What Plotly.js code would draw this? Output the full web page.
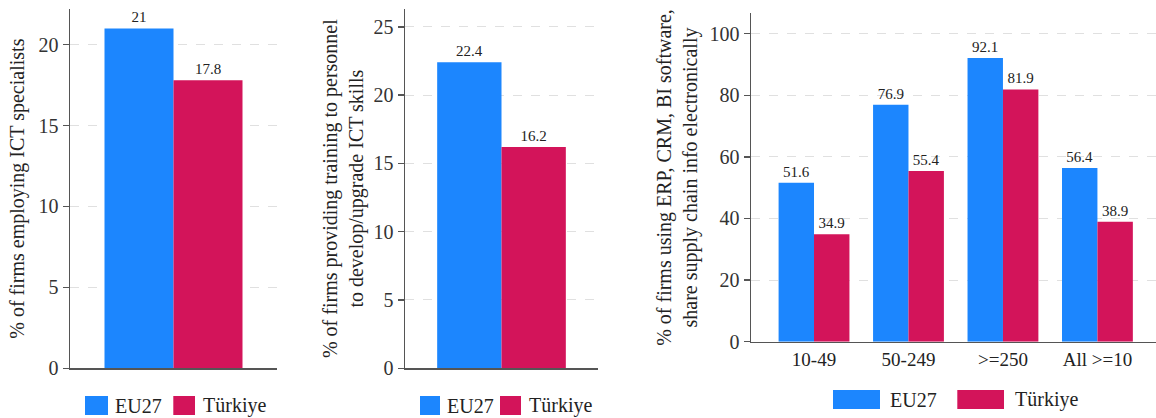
<!DOCTYPE html>
<html><head><meta charset="utf-8">
<script src="https://cdn.plot.ly/plotly-3.0.1.min.js"></script>
<style>html,body{margin:0;padding:0;background:#fff}#chart{width:1156px;height:418px}</style>
</head><body><div id="chart"></div>
<script>
// ---- data ----
const seriesNames = ['EU27', 'Türkiye'];
const panel1Cat = ['ICT specialists'];
const panel1EU = [21];
const panel1TR = [17.8];
const panel2Cat = ['ICT training'];
const panel2EU = [22.4];
const panel2TR = [16.2];
const sizeCats = ['10-49', '50-249', '>=250', 'All >=10'];
const panel3EU = [51.6, 76.9, 92.1, 56.4];
const panel3TR = [34.9, 55.4, 81.9, 38.9];
const yTitle1 = '% of firms employing ICT specialists';
const yTitle2 = '% of firms providing training to personnel<br>to develop/upgrade ICT skills';
const yTitle3 = '% of firms using ERP, CRM, BI software,<br>share supply chain info electronically';
const yTicks1 = [0, 5, 10, 15, 20];
const yTicks2 = [0, 5, 10, 15, 20, 25];
const yTicks3 = [0, 20, 40, 60, 80, 100];

// ---- style ----
const COLORS = ['#1c86fe', '#d3145a'];
const FONT = 'Liberation Serif, Times New Roman, serif';
const W = 1156, H = 418;
const px = v => v / W, py = v => (H - v) / H;

function barTrace(cats, vals, i, ax) {
  return {
    type: 'bar', x: cats, y: vals, name: seriesNames[i],
    marker: {color: COLORS[i], line: {width: 0}},
    text: vals.map(v => String(v)), textposition: 'outside',
    textfont: {family: FONT, size: 15, color: '#222'},
    constraintext: 'none', cliponaxis: false,
    xaxis: 'x' + (ax === 1 ? '' : ax), yaxis: 'y' + (ax === 1 ? '' : ax),
    showlegend: false, hoverinfo: 'x+y+name'
  };
}

const data = [
  barTrace(panel1Cat, panel1EU, 0, 1), barTrace(panel1Cat, panel1TR, 1, 1),
  barTrace(panel2Cat, panel2EU, 0, 2), barTrace(panel2Cat, panel2TR, 1, 2),
  barTrace(sizeCats, panel3EU, 0, 3), barTrace(sizeCats, panel3TR, 1, 3)
];

const axisLine = '#555';
function xAx(dom, range, showLabels) {
  return {
    domain: dom, range: range, type: 'category', showline: true, linecolor: axisLine, linewidth: 1.5,
    showgrid: false, zeroline: false, ticks: '', showticklabels: showLabels, fixedrange: true,
    tickfont: {family: FONT, size: 19, color: '#222'}
  };
}
function yAx(dom, range, ticks, title, standoff, anchor) {
  return {
    domain: dom, range: range, anchor: anchor, tickvals: ticks, showline: true, linecolor: axisLine, linewidth: 1.5,
    ticks: 'outside', ticklen: 6, tickwidth: 1.5, tickcolor: axisLine,
    showgrid: true, gridcolor: '#e0e0e0', griddash: 'dash', gridwidth: 1, zeroline: false,
    tickfont: {family: FONT, size: 20, color: '#333'}, fixedrange: true,
    title: {text: title, font: {family: FONT, size: 20, color: '#222'}, standoff: standoff}
  };
}

const yd12 = [py(368.3), py(9)];
const yd3 = [py(341.7), py(13.3)];

// manual legends (swatches + labels)
const legendSpecs = [
  {boxes: [[85, 108], [173.3, 195]], y: [396, 415], texts: [113, 201]},
  {boxes: [[420, 440], [500, 521]], y: [396, 415], texts: [445, 527]},
  {boxes: [[833, 880], [957.3, 1004]], y: [390, 409], texts: [888, 1013]}
];
const shapes = [], annotations = [];
legendSpecs.forEach(sp => {
  sp.boxes.forEach((b, i) => {
    shapes.push({type: 'rect', xref: 'paper', yref: 'paper', x0: px(b[0]), x1: px(b[1]),
      y0: py(sp.y[1]), y1: py(sp.y[0]), fillcolor: COLORS[i], line: {width: 0}});
    annotations.push({xref: 'paper', yref: 'paper', x: px(sp.texts[i]), y: py((sp.y[0] + sp.y[1]) / 2),
      xanchor: 'left', yanchor: 'middle', showarrow: false, text: seriesNames[i],
      font: {family: FONT, size: 20, color: '#222'}});
  });
});

const layout = {
  width: W, height: H, margin: {l: 0, r: 0, t: 0, b: 0}, paper_bgcolor: '#fff', plot_bgcolor: '#fff',
  barmode: 'group', bargap: 0.25, bargroupgap: 0, showlegend: false,
  font: {family: FONT, color: '#222'},
  xaxis: Object.assign(xAx([px(70), px(277)], [-0.5625, 0.5625], false), {anchor: 'y'}),
  yaxis: yAx(yd12, [0, 22.2], yTicks1, yTitle1, 8, 'x'),
  xaxis2: Object.assign(xAx([px(405), px(598)], [-0.5625, 0.5625], false), {anchor: 'y2'}),
  yaxis2: yAx(yd12, [0, 26.3], yTicks2, yTitle2, 4, 'x2'),
  xaxis3: Object.assign(xAx([px(751), 1], [-0.667, 3.62], true), {anchor: 'y3'}),
  yaxis3: yAx(yd3, [0, 106.6], yTicks3, yTitle3, 6, 'x3'),
  shapes: shapes, annotations: annotations
};

Plotly.newPlot('chart', data, layout, {displayModeBar: false, responsive: false, staticPlot: true});
</script></body></html>
